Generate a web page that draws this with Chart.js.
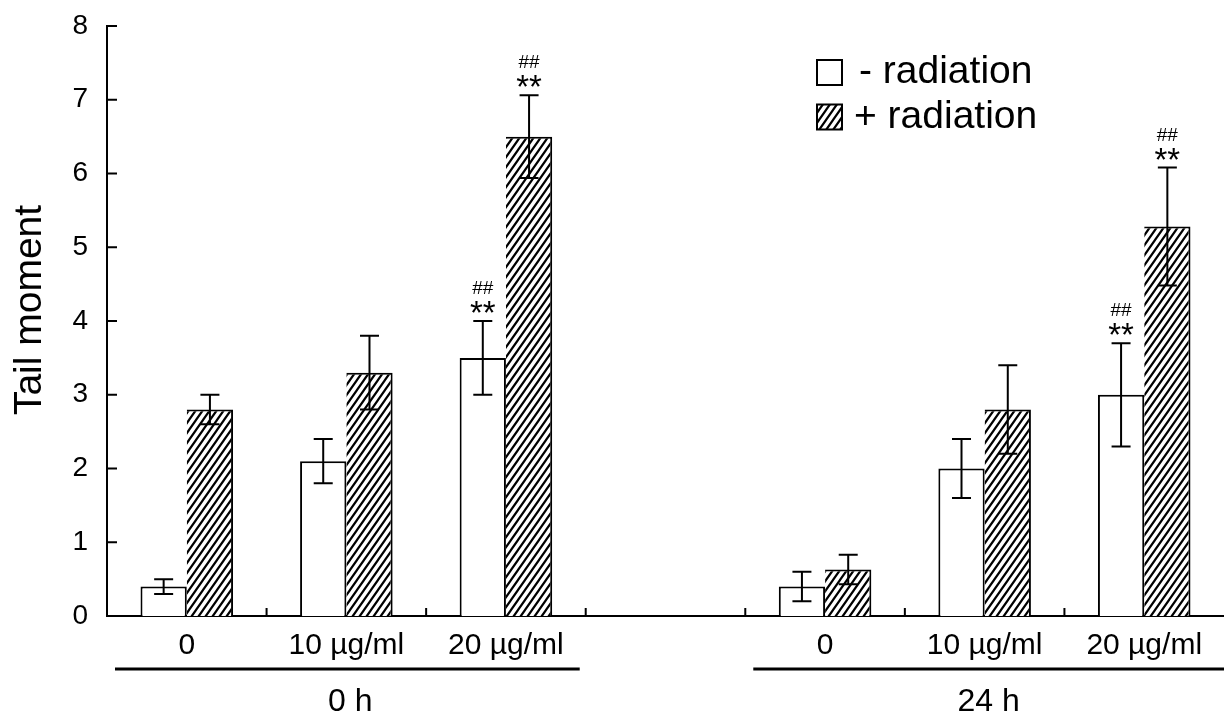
<!DOCTYPE html>
<html>
<head>
<meta charset="utf-8">
<script src="https://cdn.jsdelivr.net/npm/chart.js@4.4.1/dist/chart.umd.min.js"></script>
<style>
    html, body { margin: 0; padding: 0; background: #fff; overflow: hidden; }
    #contenedor { width: 1224px; height: 714px; }
</style>
</head>
<body>
<div id="contenedor"><canvas id="graficoTail"></canvas></div>
<script>
// categorias (la posicion vacia separa 0 h de 24 h)
const doses = ['0', '10 µg/ml', '20 µg/ml', '', '0', '10 µg/ml', '20 µg/ml'];
const yTicks = [0, 1, 2, 3, 4, 5, 6, 7, 8];
const yTitle = 'Tail moment';

// - radiation
const noRad = [0.4, 2.1, 3.5, null, 0.4, 2.0, 3.0];
const errNoRad = [0.1, 0.3, 0.5, null, 0.2, 0.4, 0.7];
const sigNoRad = ['', '', '**', '', '', '', '**'];
const hashNoRad = ['', '', '##', '', '', '', '##'];

// + radiation
const rad = [2.8, 3.3, 6.5, null, 0.63, 2.8, 5.28];
const errRad = [0.2, 0.5, 0.56, null, 0.2, 0.6, 0.8];
const sigRad = ['', '', '**', '', '', '', '**'];
const hashRad = ['', '', '##', '', '', '', '##'];

// grupos de tiempo
const times = ['0 h', '24 h'];
const timeFirst = [0, 4];
const timeLast = [2, 6];

const FONT = "'Liberation Sans', Arial, sans-serif";

function hatchPattern() {
    const w = 7, h = 10;
    const c = document.createElement('canvas');
    c.width = w; c.height = h;
    const g = c.getContext('2d');
    g.fillStyle = '#fff';
    g.fillRect(0, 0, w, h);
    g.strokeStyle = '#000';
    g.lineWidth = 2.2;
    g.beginPath();
    // tres copias de la diagonal para que el mosaico empate
    [-w, 0, w].forEach(dx => {
        g.moveTo(dx - 1, h + 1.43);
        g.lineTo(dx + w + 1, -1.43);
    });
    g.stroke();
    return g.createPattern(c, 'repeat');
}

const marcasPlugin = {
    id: 'marcas',
    afterDatasetsDraw(chart) {
        const { ctx, chartArea, scales: { x, y } } = chart;
        const slot = x.getPixelForValue(1) - x.getPixelForValue(0);
        ctx.save();
        ctx.strokeStyle = '#000';
        ctx.fillStyle = '#000';
        ctx.lineWidth = 2;

        // ticks hacia adentro
        ctx.beginPath();
        yTicks.forEach(t => {
            const py = y.getPixelForValue(t);
            ctx.moveTo(chartArea.left, py);
            ctx.lineTo(chartArea.left + 10, py);
        });
        for (let i = 1; i < doses.length; i++) {
            const px = x.getPixelForValue(i) - slot / 2;
            ctx.moveTo(px, chartArea.bottom);
            ctx.lineTo(px, chartArea.bottom - 8);
        }
        ctx.stroke();

        // barras de error y significancia
        chart.data.datasets.forEach((ds, di) => {
            const meta = chart.getDatasetMeta(di);
            meta.data.forEach((bar, i) => {
                const v = ds.data[i];
                if (v == null) return;
                const e = ds.errors[i];
                const top = y.getPixelForValue(v + e);
                const bot = y.getPixelForValue(v - e);
                ctx.beginPath();
                ctx.moveTo(bar.x, top); ctx.lineTo(bar.x, bot);
                ctx.moveTo(bar.x - 9.5, top); ctx.lineTo(bar.x + 9.5, top);
                ctx.moveTo(bar.x - 9.5, bot); ctx.lineTo(bar.x + 9.5, bot);
                ctx.stroke();

                ctx.textAlign = 'center';
                ctx.textBaseline = 'alphabetic';
                if (ds.stars[i]) {
                    ctx.font = '33px ' + FONT;
                    ctx.fillText(ds.stars[i], bar.x, top + 3);
                }
                if (ds.hashes[i]) {
                    ctx.font = '19px ' + FONT;
                    ctx.fillText(ds.hashes[i], bar.x, top - 27);
                }
            });
        });

        // titulo del eje y
        ctx.save();
        ctx.translate(41, (chartArea.top + chartArea.bottom) / 2 - 11);
        ctx.rotate(-Math.PI / 2);
        ctx.font = '39px ' + FONT;
        ctx.textAlign = 'center';
        ctx.textBaseline = 'alphabetic';
        ctx.fillText(yTitle, 0, 0);
        ctx.restore();

        // leyenda
        chart.data.datasets.forEach((ds, di) => {
            const by = 60 + di * 44.5;
            ctx.fillStyle = ds.backgroundColor;
            ctx.fillRect(817, by, 25, 25);
            ctx.lineWidth = 2;
            ctx.strokeRect(817, by, 25, 25);
            ctx.fillStyle = '#000';
            ctx.font = '39px ' + FONT;
            ctx.textAlign = 'left';
            ctx.textBaseline = 'alphabetic';
            ctx.fillText(ds.label, di === 0 ? 859 : 854, by + 23);
        });

        // lineas de grupo y etiquetas de tiempo
        ctx.lineWidth = 3;
        ctx.font = '32px ' + FONT;
        ctx.textAlign = 'center';
        times.forEach((t, k) => {
            const x0 = x.getPixelForValue(timeFirst[k]) - slot / 2 + 8;
            const x1 = x.getPixelForValue(timeLast[k]) + slot / 2 - 6;
            ctx.beginPath();
            ctx.moveTo(x0, 669);
            ctx.lineTo(k === times.length - 1 ? chart.width : x1, 669);
            ctx.stroke();
            const mid = (x.getPixelForValue(timeFirst[k]) + x.getPixelForValue(timeLast[k])) / 2;
            ctx.fillText(t, mid + 4, 711);
        });
        ctx.restore();
    }
};

document.addEventListener('DOMContentLoaded', function () {
    const canvas = document.getElementById('graficoTail');
    const ctx = canvas.getContext('2d');

    new Chart(ctx, {
        type: 'bar',
        data: {
            labels: doses,
            datasets: [
                {
                    label: '- radiation', data: noRad, errors: errNoRad, stars: sigNoRad, hashes: hashNoRad,
                    backgroundColor: '#ffffff', borderColor: '#000',
                    borderWidth: { top: 2, left: 2, right: 2, bottom: 0 }, borderSkipped: false
                },
                {
                    label: '+ radiation', data: rad, errors: errRad, stars: sigRad, hashes: hashRad,
                    backgroundColor: hatchPattern(), borderColor: '#000',
                    borderWidth: { top: 2, left: 0, right: 2, bottom: 0 }, borderSkipped: false
                }
            ]
        },
        options: {
            responsive: true,
            maintainAspectRatio: false,
            animation: false,
            layout: { padding: { top: 26, right: 0, bottom: 0, left: 0 } },
            datasets: { bar: { categoryPercentage: 0.58, barPercentage: 1.0 } },
            plugins: {
                legend: { display: false },
                tooltip: { enabled: false }
            },
            scales: {
                x: {
                    grid: { display: false, drawTicks: false },
                    border: { display: true, color: '#000', width: 2 },
                    ticks: { color: '#000', font: { family: FONT, size: 30 }, padding: 12, maxRotation: 0, autoSkip: false },
                    afterFit: s => { s.height = 98; s.paddingLeft = 0; s.paddingRight = 0; }
                },
                y: {
                    min: 0, max: 8,
                    grid: { display: false, drawTicks: false },
                    border: { display: true, color: '#000', width: 2 },
                    ticks: { stepSize: 1, color: '#000', font: { family: FONT, size: 28 }, padding: 19 },
                    afterFit: s => { s.width = 107; s.paddingTop = 0; s.paddingBottom = 0; }
                }
            }
        },
        plugins: [marcasPlugin]
    });
});
</script>
</body>
</html>
